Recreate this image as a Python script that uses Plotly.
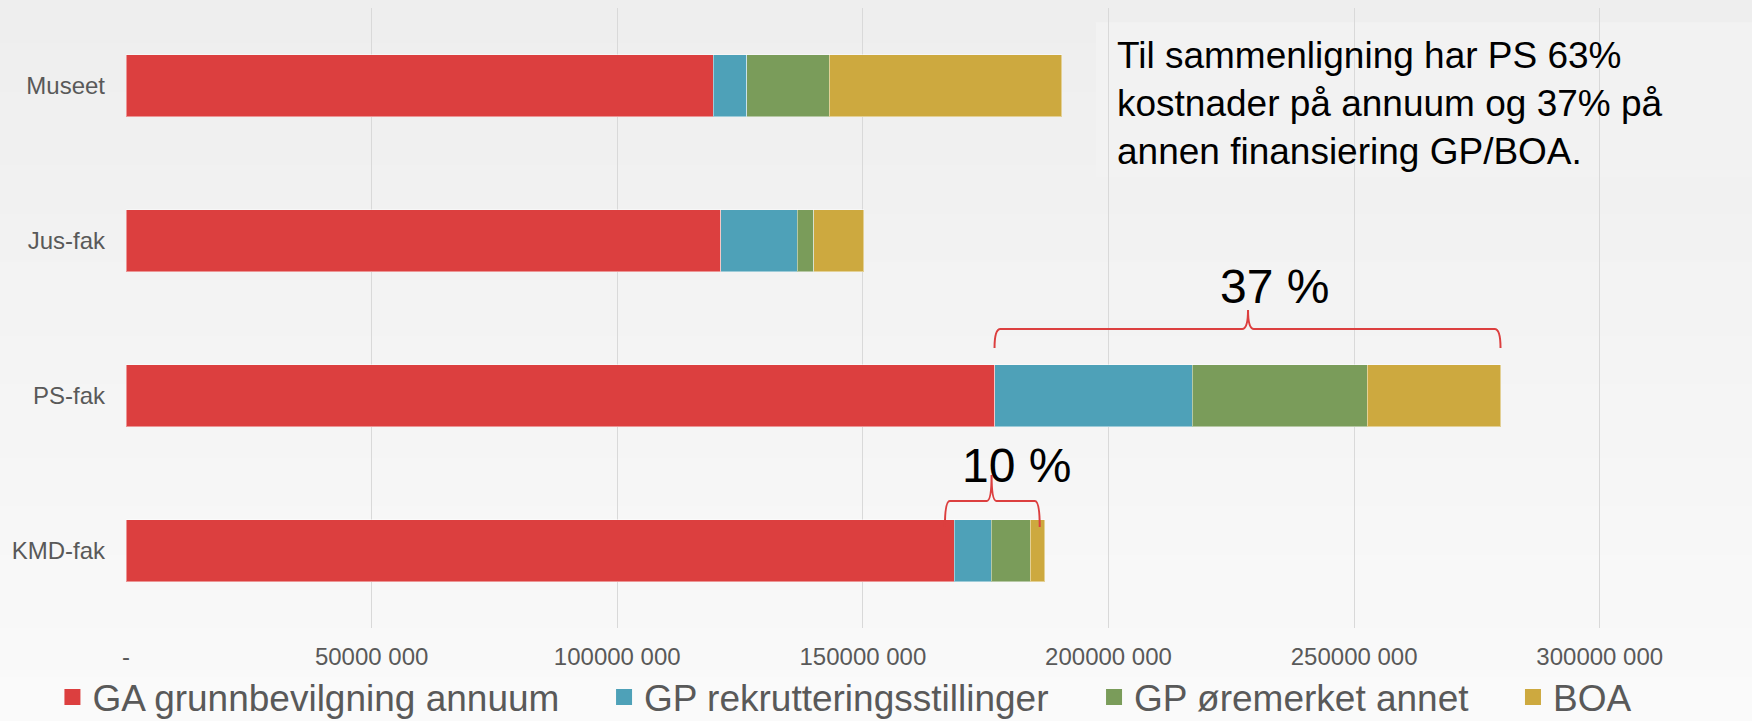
import plotly.graph_objects as go

# ---- data ----
categories = ["Museet", "Jus-fak", "PS-fak", "KMD-fak"]
series_names = ["GA grunnbevilgning annuum", "GP rekrutteringsstillinger",
                "GP øremerket annet", "BOA"]
ga_annuum = [119.5e6, 121.1e6, 176.8e6, 168.6e6]
gp_rekruttering = [6.9e6, 15.5e6, 40.2e6, 7.5e6]
gp_oremerket = [16.8e6, 3.4e6, 35.7e6, 8.0e6]
boa = [47.3e6, 10.2e6, 27.1e6, 2.9e6]
series_values = [ga_annuum, gp_rekruttering, gp_oremerket, boa]

tick_values = [0, 50e6, 100e6, 150e6, 200e6, 250e6, 300e6]
tick_labels = ["-", "50000 000", "100000 000", "150000 000",
               "200000 000", "250000 000", "300000 000"]

# brace annotations: (start value, centre value, end value, label, label position)
brace_ps = (176.8e6, 228.4e6, 279.8e6, "37 %", 233.8e6)
brace_kmd = (166.7e6, 176.2e6, 186.0e6, "10 %", 181.3e6)

note_lines = ["Til sammenligning har PS 63%",
              "kostnader på annuum og 37% på",
              "annen finansiering GP/BOA."]

# ---- styling ----
colors = ["#DC3F3F", "#4EA1B8", "#7A9C5A", "#CDA93F"]
FONT = "Liberation Sans, Arial, sans-serif"
GREY = "#595959"

fig = go.Figure()
for name, vals, col in zip(series_names, series_values, colors):
    fig.add_trace(go.Bar(
        y=categories, x=vals, name=name, orientation="h", width=0.4,
        marker=dict(color=col, line=dict(color="rgba(255,255,255,0.45)", width=1)),
        showlegend=False, hoverinfo="x+y+name"))

# legend entries (one legend per entry to reproduce the spacing)
legend_x = [-0.0468, 0.3041, 0.6158, 0.8823]
legend_ids = ["legend", "legend2", "legend3", "legend4"]
for name, col, lid in zip(series_names, colors, legend_ids):
    fig.add_trace(go.Scatter(
        x=[None], y=[None], mode="markers", name=name, legend=lid,
        marker=dict(symbol="square", size=18, color=col), showlegend=True))

legend_common = dict(orientation="h", yanchor="middle", y=-0.112, xanchor="left",
                     bgcolor="rgba(0,0,0,0)", font=dict(family=FONT, size=37, color=GREY))
layout_legends = {}
for lid, lx in zip(legend_ids, legend_x):
    layout_legends[lid] = dict(legend_common, x=lx)

# background gradient (top slightly darker than bottom)
shapes = []
n_bands = 30
y_top, y_bot = 1.02, -0.16
for i in range(n_bands):
    t = i / (n_bands - 1)
    v = round(238 + (250 - 238) * t)
    ya = y_top - (y_top - y_bot) * i / n_bands
    yb = y_top - (y_top - y_bot) * (i + 1) / n_bands
    shapes.append(dict(type="rect", xref="paper", yref="paper",
                       x0=-0.09, x1=1.05, y0=yb - 0.002, y1=ya + 0.002,
                       fillcolor=f"rgb({v},{v},{v})", line=dict(width=0), layer="below"))

# note box
shapes.append(dict(type="rect", xref="paper", yref="paper",
                   x0=0.617, x1=1.04, y0=0.727, y1=0.977,
                   fillcolor="#F2F2F2", line=dict(width=0), layer="between"))


def brace_path(x0, xc, x1, y_end, y_line, y_tip, d):
    return (f"M {x0},{y_end} Q {x0},{y_line} {x0 + d},{y_line} "
            f"L {xc - d},{y_line} Q {xc},{y_line} {xc},{y_tip} "
            f"Q {xc},{y_line} {xc + d},{y_line} "
            f"L {x1 - d},{y_line} Q {x1},{y_line} {x1},{y_end}")


shapes.append(dict(type="path", xref="x", yref="paper",
                   path=brace_path(brace_ps[0], brace_ps[1], brace_ps[2],
                                   0.4516, 0.4823, 0.5129, 1.2e6),
                   line=dict(color="#DC3F3F", width=2)))
shapes.append(dict(type="path", xref="x", yref="paper",
                   path=brace_path(brace_kmd[0], brace_kmd[1], brace_kmd[2],
                                   0.1629, 0.2048, 0.2468, 1.0e6),
                   line=dict(color="#DC3F3F", width=2)))

annotations = [
    dict(x=brace_ps[4], xref="x", y=0.5516, yref="paper", text=brace_ps[3],
         showarrow=False, font=dict(family=FONT, size=48, color="black"),
         xanchor="center", yanchor="middle"),
    dict(x=brace_kmd[4], xref="x", y=0.2629, yref="paper",
         text=brace_kmd[3], showarrow=False,
         font=dict(family=FONT, size=48, color="black"),
         xanchor="center", yanchor="middle"),
    dict(x=0.629, xref="paper", y=0.846, yref="paper",
         text="<br>".join(note_lines), showarrow=False, align="left",
         font=dict(family=FONT, size=37, color="black"),
         xanchor="left", yanchor="middle"),
]

fig.update_layout(
    width=1752, height=721,
    margin=dict(l=126, r=54, t=8, b=93, autoexpand=False),
    barmode="stack",
    paper_bgcolor="#F4F4F4",
    plot_bgcolor="rgba(0,0,0,0)",
    font=dict(family=FONT, color=GREY),
    xaxis=dict(range=[0, 320e6], tickvals=tick_values, ticktext=tick_labels,
               showgrid=True, gridcolor="#D9D9D9", gridwidth=1,
               zeroline=False, showline=False, ticks="",
               tickfont=dict(family=FONT, size=24, color=GREY),
               ticklabelstandoff=12, fixedrange=True, automargin=False),
    yaxis=dict(autorange="reversed", showgrid=False, zeroline=False,
               showline=False, ticks="",
               tickfont=dict(family=FONT, size=24, color=GREY),
               ticklabelstandoff=20, fixedrange=True, automargin=False),
    shapes=shapes,
    annotations=annotations,
    **layout_legends,
)

fig.write_html("out.html",
               config={"displayModeBar": False},
               post_script="document.body.style.margin='0px';"
                           "document.body.style.overflow='hidden';")
